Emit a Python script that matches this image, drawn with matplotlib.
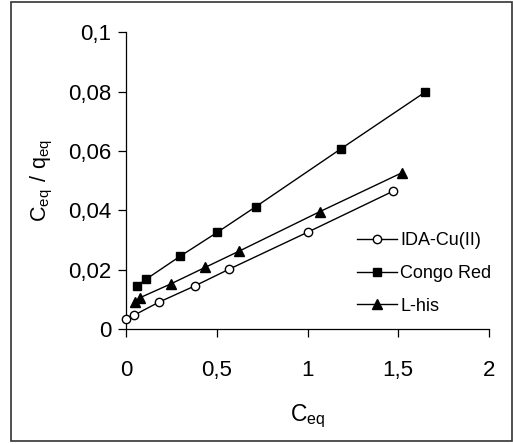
import matplotlib
matplotlib.use("Agg")
import matplotlib.pyplot as plt
from matplotlib.patches import Rectangle

plt.rcParams['font.family'] = ['Liberation Sans', 'DejaVu Sans']
plt.rcParams['mathtext.default'] = 'regular'

# IDA-Cu(II)
ida_x = [0.0, 0.044, 0.178, 0.377, 0.565, 1.003, 1.470]
ida_y = [0.0034, 0.0047, 0.0090, 0.0145, 0.0201, 0.0327, 0.0464]

# Congo Red
congo_x = [0.059, 0.107, 0.296, 0.502, 0.716, 1.183, 1.650]
congo_y = [0.0146, 0.0167, 0.0245, 0.0326, 0.0413, 0.0607, 0.0799]

# L-his
lhis_x = [0.046, 0.077, 0.245, 0.436, 0.624, 1.069, 1.522]
lhis_y = [0.0092, 0.0106, 0.0152, 0.0208, 0.0263, 0.0396, 0.0527]

x_ticks = [0, 0.5, 1, 1.5, 2]
x_labels = ['0', '0,5', '1', '1,5', '2']
y_ticks = [0, 0.02, 0.04, 0.06, 0.08, 0.1]
y_labels = ['0', '0,02', '0,04', '0,06', '0,08', '0,1']

fig = plt.figure(figsize=(5.13, 4.44), dpi=100)
ax = fig.add_axes([0.2463, 0.259, 0.7063, 0.668])

ax.plot(ida_x, ida_y, '-o', color='black', lw=1, ms=6, mfc='white', mec='black',
        mew=1, label='IDA-Cu(II)', clip_on=False, zorder=3)
ax.plot(congo_x, congo_y, '-s', color='black', lw=1, ms=6, label='Congo Red',
        clip_on=False, zorder=3)
ax.plot(lhis_x, lhis_y, '-^', color='black', lw=1, ms=6.5, label='L-his',
        clip_on=False, zorder=3)

ax.set_xlim(0, 2)
ax.set_ylim(0, 0.1)
ax.set_xticks(x_ticks)
ax.set_xticklabels(x_labels)
ax.set_yticks(y_ticks)
ax.set_yticklabels(y_labels)

for side in ['top', 'right']:
    ax.spines[side].set_visible(False)
for side in ['left', 'bottom']:
    ax.spines[side].set_linewidth(0.9)

ax.tick_params(axis='both', direction='out', length=6, width=0.9, labelsize=16)
ax.tick_params(axis='x', pad=16)
ax.tick_params(axis='y', pad=5)

ax.set_xlabel(r'$C_{eq}$', fontsize=16.5, labelpad=16)
ax.set_ylabel(r'$C_{eq}\ /\ q_{eq}$', fontsize=15.5, labelpad=9)

ax.legend(loc='upper left', bbox_to_anchor=(0.6366, 0.327), frameon=False,
          fontsize=13, handlelength=2.2, handletextpad=0.2, labelspacing=0.88,
          borderpad=0, borderaxespad=0)

fig.add_artist(Rectangle((0.0224, 0.0068), 0.9756, 0.9887, transform=fig.transFigure,
                         fill=False, edgecolor='#333333', linewidth=1.2))

fig.savefig('out.png', dpi=100)
